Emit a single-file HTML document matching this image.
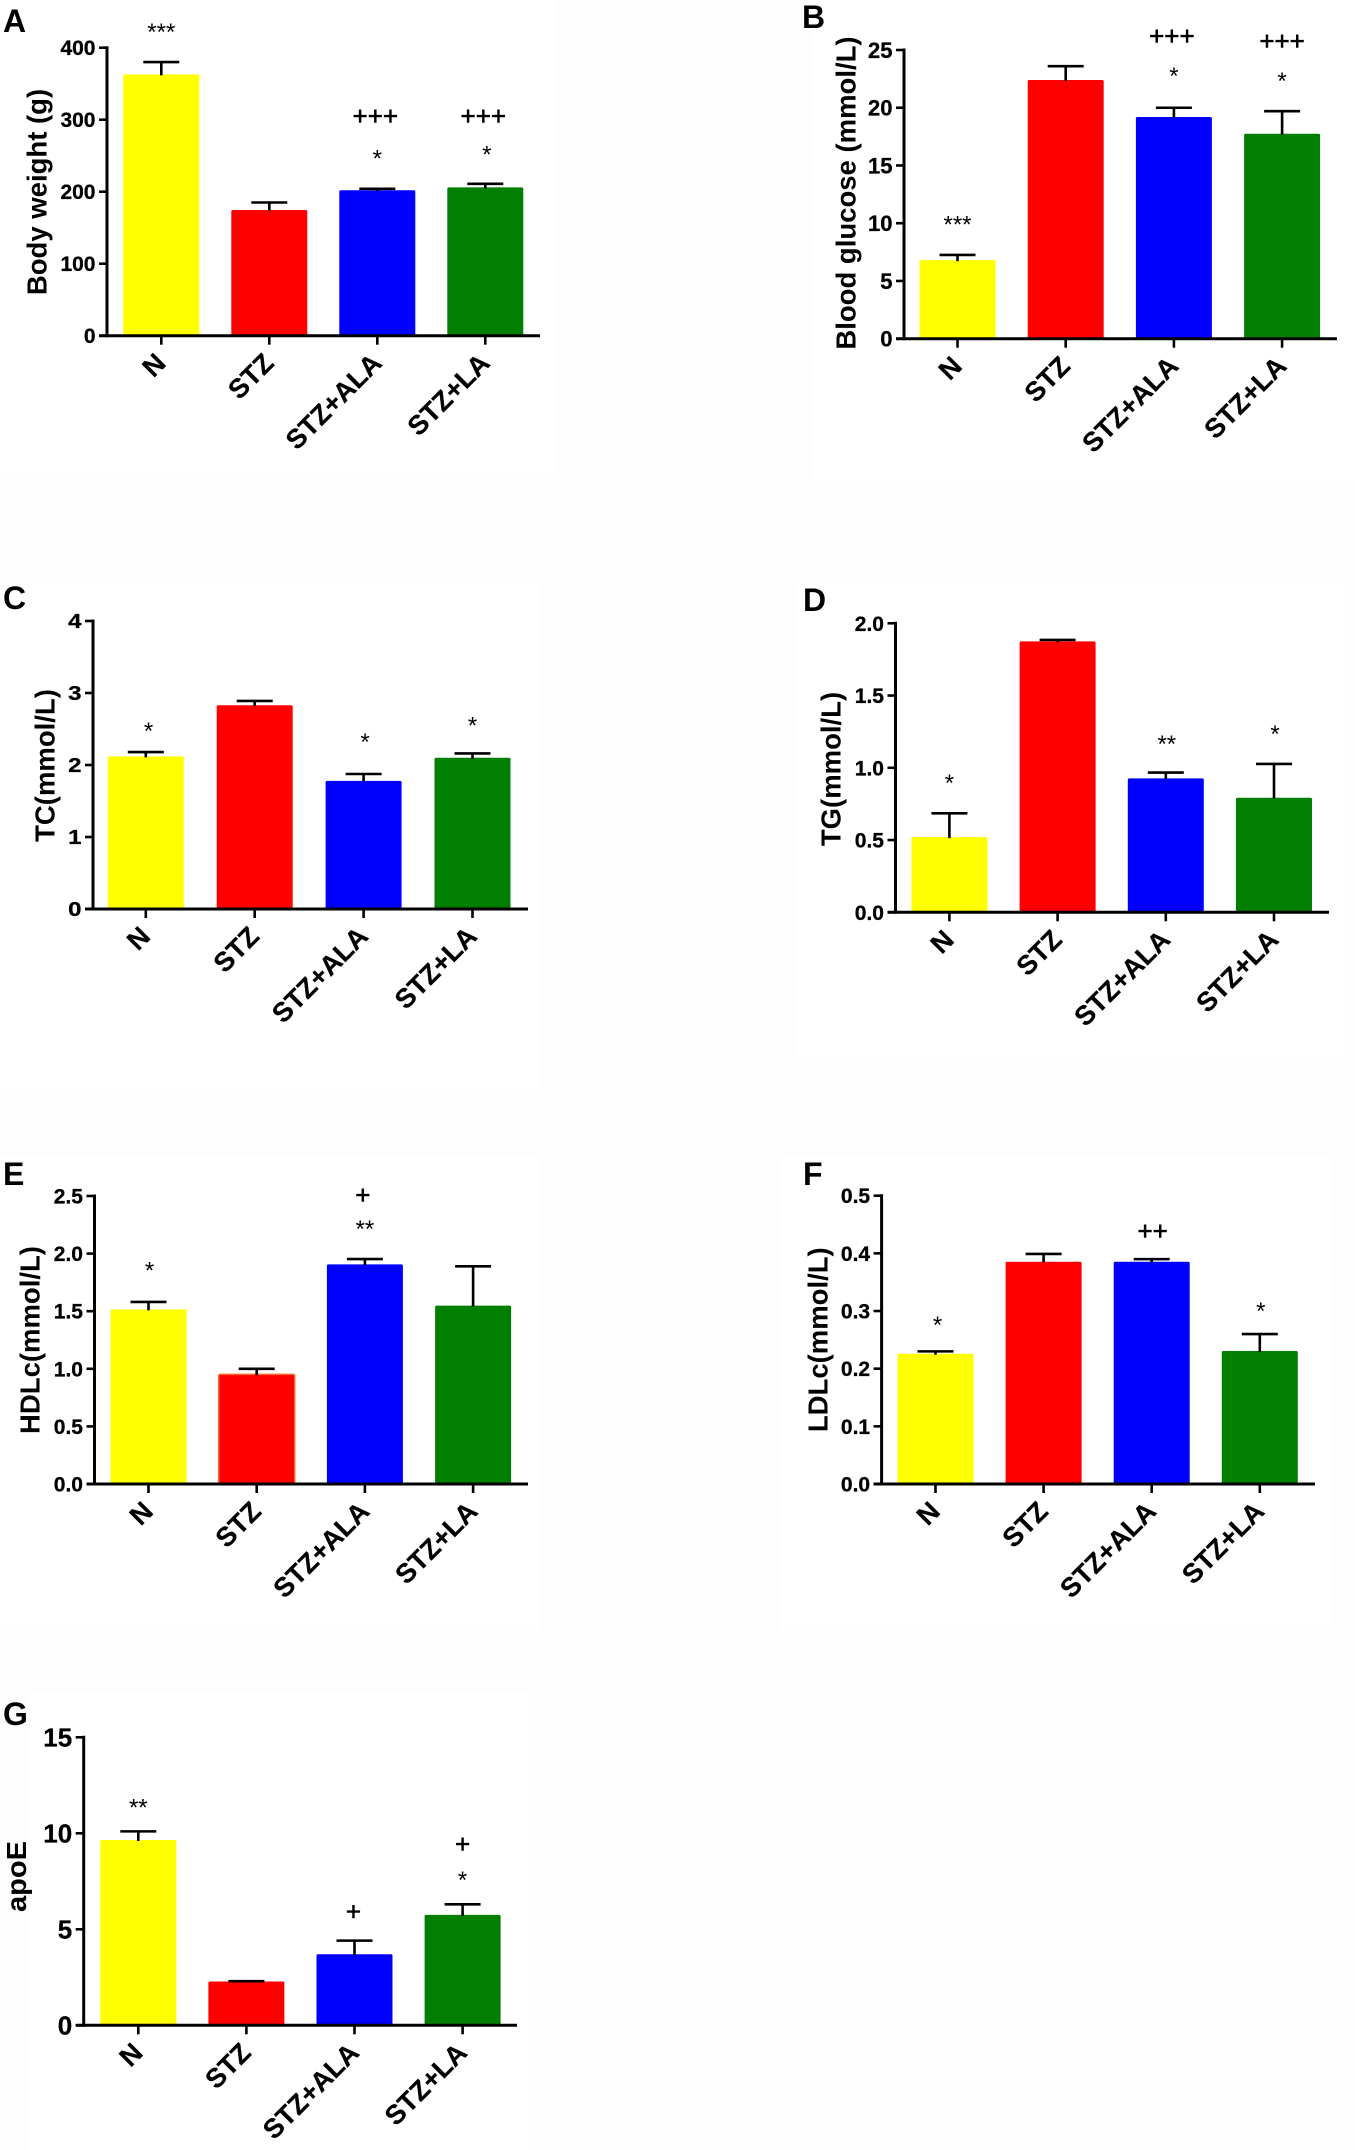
<!DOCTYPE html>
<html lang="en">
<head>
<meta charset="utf-8">
<title>Metabolic parameters by treatment group</title>
<style>
html,body{margin:0;padding:0;background:#fff;}
#figure{display:block;width:1355px;height:2150px;font-family:"Liberation Sans",Arial,sans-serif;}
</style>
</head>
<body>
<svg id="figure" xmlns="http://www.w3.org/2000/svg" width="1355" height="2150" viewBox="0 0 1355 2150">
  <rect x="0" y="0" width="1355" height="2150" fill="#fdfdfd"/>
  <rect x="0" y="0" width="556" height="474" fill="#ffffff"/>
  <rect x="810" y="0" width="545" height="480" fill="#ffffff"/>
  <rect x="0" y="584" width="540" height="505" fill="#ffffff"/>
  <rect x="795" y="584" width="548" height="474" fill="#ffffff"/>
  <rect x="0" y="1156" width="540" height="474" fill="#ffffff"/>
  <rect x="780" y="1156" width="550" height="474" fill="#ffffff"/>
  <rect x="30" y="1692" width="501" height="458" fill="#ffffff"/>
  <rect x="531" y="1640" width="824" height="510" fill="#fefefe"/>
</svg>
<script>
const SVG_NS = 'http://www.w3.org/2000/svg';

/* ---------- shared data ---------- */
const categories = ['N', 'STZ', 'STZ+ALA', 'STZ+LA'];
const barColors = ['#ffff00', '#ff0000', '#0000ff', '#007f00'];

/* ---------- panel A ---------- */
const bodyWeightMeans = [363, 174.5, 202, 206];
const bodyWeightUpper = [380, 185, 204, 211];
const bodyWeightTicks = ['0', '100', '200', '300', '400'];
const bodyWeightStars = ['***', '', '*', '*'];
const bodyWeightStarLevels = [427, null, 251, 256.5];
const bodyWeightPlus = ['', '', '+++', '+++'];
const bodyWeightPlusLevels = [null, null, 305, 305];

/* ---------- panel B ---------- */
const glucoseMeans = [6.8, 22.4, 19.2, 17.75];
const glucoseUpper = [7.25, 23.6, 20.0, 19.7];
const glucoseTicks = ['0', '5', '10', '15', '20', '25'];
const glucoseStars = ['***', '', '*', '*'];
const glucoseStarLevels = [10.2, null, 23.04, 22.6];
const glucosePlus = ['', '', '+++', '+++'];
const glucosePlusLevels = [null, null, 26.2, 25.8];

/* ---------- panel C ---------- */
const tcMeans = [2.12, 2.83, 1.78, 2.10];
const tcUpper = [2.18, 2.89, 1.875, 2.16];
const tcTicks = ['0', '1', '2', '3', '4'];
const tcStars = ['*', '', '*', '*'];
const tcStarLevels = [2.52, null, 2.37, 2.6];
const tcPlus = ['', '', '', ''];
const tcPlusLevels = [null, null, null, null];

/* ---------- panel D ---------- */
const tgMeans = [0.52, 1.875, 0.927, 0.793];
const tgUpper = [0.685, 1.885, 0.967, 1.027];
const tgTicks = ['0.0', '0.5', '1.0', '1.5', '2.0'];
const tgStars = ['*', '', '**', '*'];
const tgStarLevels = [0.92, null, 1.19, 1.257];
const tgPlus = ['', '', '', ''];
const tgPlusLevels = [null, null, null, null];

/* ---------- panel E ---------- */
const hdlMeans = [1.516, 0.952, 1.907, 1.548];
const hdlUpper = [1.58, 1.0, 1.953, 1.89];
const hdlTicks = ['0.0', '0.5', '1.0', '1.5', '2.0', '2.5'];
const hdlStars = ['*', '', '**', ''];
const hdlStarLevels = [1.884, null, 2.245, null];
const hdlPlus = ['', '', '+', ''];
const hdlPlusLevels = [null, null, 2.509, null];

/* ---------- panel F ---------- */
const ldlMeans = [0.226, 0.3855, 0.3855, 0.2306];
const ldlUpper = [0.23, 0.399, 0.39, 0.26];
const ldlTicks = ['0.0', '0.1', '0.2', '0.3', '0.4', '0.5'];
const ldlStars = ['*', '', '', '*'];
const ldlStarLevels = [0.2815, null, null, 0.306];
const ldlPlus = ['', '', '++', ''];
const ldlPlusLevels = [null, null, 0.439, null];

/* ---------- panel G ---------- */
const apoeMeans = [9.65, 2.28, 3.7, 5.75];
const apoeUpper = [10.1, 2.3, 4.41, 6.3];
const apoeTicks = ['0', '5', '10', '15'];
const apoeStars = ['**', '', '', '*'];
const apoeStarLevels = [11.53, null, null, 7.74];
const apoePlus = ['', '', '+', '+'];
const apoePlusLevels = [null, null, 5.92, 9.43];

const svg = document.getElementById('figure');

function make(parent, tag, attrs, text) {
  const el = document.createElementNS(SVG_NS, tag);
  for (const k in attrs) el.setAttribute(k, attrs[k]);
  if (text !== undefined) el.textContent = text;
  parent.appendChild(el);
  return el;
}

function drawPanel(p) {
  const group = make(svg, 'g', {});
  
  

  const tickValues = p.ticks.map(Number);
  const domainMax = tickValues[tickValues.length - 1];
  const yScale = v => p.y0 - (v / domainMax) * (p.y0 - p.yTop);
  const xScale = i => p.x0 + p.step * i;
  const starNudge = p.starNudge || [0, 0, 0, 0];
  const plusNudge = p.plusNudge || [0, 0, 0, 0];
  const tickFont = p.tickFont || 21;
  const tickStretch = p.tickStretch || 1;

  const letter = make(group, 'text', {x: p.letterX, y: p.letterY, 'font-size': 32, 'font-weight': 700, fill: '#000'}, p.letter);
  
  

  p.means.forEach((m, i) => {
    const top = yScale(m);
    const bar = make(group, 'rect', {
      x: xScale(i) - 38, y: top, width: 76, height: p.y0 - top, rx: 1.5,
      fill: barColors[i]
    });
    if (p.edgeIndex === i) {
      bar.setAttribute('stroke', '#f0682a');
      bar.setAttribute('stroke-width', 1.5);
    }
    
    

    const upper = yScale(p.upper[i]);
    const err = make(group, 'g', {stroke: '#000', 'stroke-width': 2.6, fill: 'none'});
    
    
    make(err, 'line', {x1: xScale(i), x2: xScale(i), y1: top + 1, y2: upper});
    make(err, 'line', {x1: xScale(i) - 18, x2: xScale(i) + 18, y1: upper, y2: upper});
  });

  const yAxis = make(group, 'line', {x1: p.axisX, x2: p.axisX, y1: p.yTop - 1.5, y2: p.y0 + 1.5, stroke: '#000', 'stroke-width': 3});
  
  
  const xAxis = make(group, 'line', {x1: p.axisX - 8, x2: p.axisEnd, y1: p.y0, y2: p.y0, stroke: '#000', 'stroke-width': 3});
  
  

  p.ticks.forEach((label, i) => {
    const y = yScale(tickValues[i]);
    const tick = make(group, 'line', {x1: p.axisX - 8, x2: p.axisX, y1: y, y2: y, stroke: '#000', 'stroke-width': 2.6});
    
    
    const t = make(group, 'text', {
      x: 0, y: 0, 'text-anchor': 'end',
      transform: 'translate(' + (p.axisX - 11.5) + ' ' + (y + tickFont * 0.358) + ') scale(' + tickStretch + ' 1)',
      'font-size': tickFont, 'font-weight': 700, fill: '#000', stroke: '#000', 'stroke-width': 0.3
    }, label);
    
    
  });

  categories.forEach((cat, i) => {
    const x = xScale(i);
    const tick = make(group, 'line', {x1: x, x2: x, y1: p.y0, y2: p.y0 + 9, stroke: '#000', 'stroke-width': 2.6});
    
    
    const ax = x + 6;
    const ay = p.y0 + 29;
    const t = make(group, 'text', {
      x: ax, y: ay, 'text-anchor': 'end',
      transform: 'rotate(-45 ' + ax + ' ' + ay + ')',
      'font-size': 27, 'font-weight': 700, fill: '#000', stroke: '#000', 'stroke-width': 0.25
    }, cat);
    
    

    if (p.stars[i]) {
      const s = make(group, 'text', {
        x: x + starNudge[i], y: yScale(p.starLevels[i]) + 11.5, 'text-anchor': 'middle',
        'font-size': 24, fill: '#000'
      }, p.stars[i]);
      
      
    }
    if (p.plus[i]) {
      const s = make(group, 'text', {
        x: x + plusNudge[i], y: yScale(p.plusLevels[i]) + 9, 'text-anchor': 'middle',
        'font-size': 26, fill: '#000', stroke: '#000', 'stroke-width': 0.6
      }, p.plus[i]);
      
      
    }
  });

  const title = make(group, 'text', {
    x: p.titleX, y: p.titleY, 'text-anchor': 'middle',
    transform: 'rotate(-90 ' + p.titleX + ' ' + p.titleY + ')',
    'font-size': 27.5, 'font-weight': 700, fill: '#000'
  }, p.title);
  if (p.titleLength) {
    title.setAttribute('textLength', p.titleLength);
    title.setAttribute('lengthAdjust', 'spacingAndGlyphs');
  }
  
  
}

drawPanel({id: 'a', letter: 'A', letterX: 3, letterY: 32, title: 'Body weight (g)', titleX: 46.4, titleY: 192,
  axisX: 107, axisEnd: 540, y0: 335.7, yTop: 47.7, x0: 161.3, step: 108,
  starNudge: [0, 0, 0, 1.5], plusNudge: [0, 0, -2, -2],
  means: bodyWeightMeans, upper: bodyWeightUpper, ticks: bodyWeightTicks,
  stars: bodyWeightStars, starLevels: bodyWeightStarLevels, plus: bodyWeightPlus, plusLevels: bodyWeightPlusLevels});

drawPanel({id: 'b', letter: 'B', letterX: 802, letterY: 28, title: 'Blood glucose (mmol/L)', titleX: 855.6, titleY: 193,
  axisX: 904, axisEnd: 1337, y0: 338.7, yTop: 50, x0: 957.5, step: 108.2, tickFont: 22,
  plusNudge: [0, 0, -2, 0],
  means: glucoseMeans, upper: glucoseUpper, ticks: glucoseTicks,
  stars: glucoseStars, starLevels: glucoseStarLevels, plus: glucosePlus, plusLevels: glucosePlusLevels});

drawPanel({id: 'c', letter: 'C', letterX: 3, letterY: 609, title: 'TC(mmol/L)', titleX: 54.7, titleY: 765.5,
  axisX: 93, axisEnd: 528, y0: 909, yTop: 621, x0: 145.8, step: 108.9, tickFont: 20, tickStretch: 1.2,
  starNudge: [2.7, 0, 1.5, 0],
  means: tcMeans, upper: tcUpper, ticks: tcTicks,
  stars: tcStars, starLevels: tcStarLevels, plus: tcPlus, plusLevels: tcPlusLevels});

drawPanel({id: 'd', letter: 'D', letterX: 803, letterY: 611, title: 'TG(mmol/L)', titleX: 840.5, titleY: 769,
  axisX: 895.5, axisEnd: 1329, y0: 912.3, yTop: 623.3, x0: 949.4, step: 108.2,
  starNudge: [0, 0, 1, 1],
  means: tgMeans, upper: tgUpper, ticks: tgTicks,
  stars: tgStars, starLevels: tgStarLevels, plus: tgPlus, plusLevels: tgPlusLevels});

drawPanel({id: 'e', letter: 'E', letterX: 3, letterY: 1185, title: 'HDLc(mmol/L)', titleX: 39.4, titleY: 1340,
  axisX: 94.5, axisEnd: 528, y0: 1484, yTop: 1196, x0: 148.5, step: 108.2, edgeIndex: 1,
  starNudge: [1, 0, 0, 0], plusNudge: [0, 0, -2, 0],
  means: hdlMeans, upper: hdlUpper, ticks: hdlTicks,
  stars: hdlStars, starLevels: hdlStarLevels, plus: hdlPlus, plusLevels: hdlPlusLevels});

drawPanel({id: 'f', letter: 'F', letterX: 803, letterY: 1185, title: 'LDLc(mmol/L)', titleX: 827.7, titleY: 1339.7,
  axisX: 881.6, axisEnd: 1315, y0: 1484, yTop: 1195.7, x0: 935.5, step: 108.1,
  starNudge: [2, 0, 0, 1], plusNudge: [0, 0, 1, 0],
  means: ldlMeans, upper: ldlUpper, ticks: ldlTicks,
  stars: ldlStars, starLevels: ldlStarLevels, plus: ldlPlus, plusLevels: ldlPlusLevels});

drawPanel({id: 'g', letter: 'G', letterX: 3, letterY: 1725, title: 'apoE', titleX: 26, titleY: 1876.5, titleLength: 71,
  axisX: 83.7, axisEnd: 517, y0: 2025.3, yTop: 1737.3, x0: 138.3, step: 108.1, tickFont: 26,
  plusNudge: [0, 0, -1, 0],
  means: apoeMeans, upper: apoeUpper, ticks: apoeTicks,
  stars: apoeStars, starLevels: apoeStarLevels, plus: apoePlus, plusLevels: apoePlusLevels});
</script>
</body>
</html>
